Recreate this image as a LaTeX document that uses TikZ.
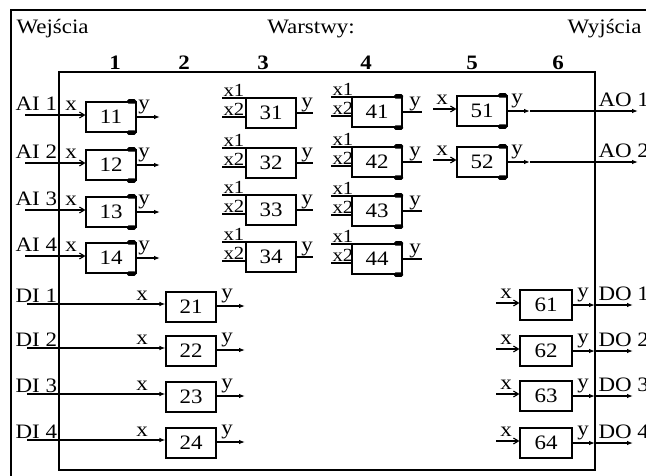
\documentclass[tikz,border=0pt]{standalone}
\usepackage{fontspec}
\setmainfont{Liberation Serif}[FakeStretch=1.12]
\usetikzlibrary{arrows.meta}
\begin{document}
\begin{tikzpicture}[x=1pt,y=-1pt,
  font=\fontsize{20.5}{24}\selectfont, line width=1.1pt,
  blk/.style={draw, minimum width=50pt, minimum height=30pt, inner sep=0pt},
  tab/.style={fill=black, rounded corners=1.5pt, minimum width=9pt, minimum height=4.5pt, inner sep=0pt},
  inarr/.style={-{Straight Barb[length=5pt,width=6pt]}},
  outarr/.style={-{Latex[length=6pt,width=4.5pt]}},
  lbl/.style={inner sep=0pt, anchor=base},
  lblw/.style={inner sep=0pt, anchor=base west},
  pin/.style={inner sep=0pt, anchor=base west, font=\fontsize{18.5}{22}\selectfont},
  num/.style={inner sep=0pt, anchor=base, font=\fontsize{20.5}{24}\selectfont\bfseries}]
\clip (0,0) rectangle (646,475);
\useasboundingbox (0,0) rectangle (646,475);

% outer window frame and inner module frame
\draw[line width=1.4pt] (11,480) -- (11,10) -- (650,10);
\draw (59,72) rectangle (595,470);

% headings
\node[lblw] (hin) at (16,33) {Wejścia};
\node[lbl] (hlay) at (311,33) {Warstwy:};
\node[inner sep=0pt, anchor=base east] (hout) at (642,33) {Wyjścia};
\foreach \k/\x in {1/115,2/184,3/263,4/366,5/472,6/558}
  \node[num] (L\k) at (\x,69) {\k};

% layer 1: analog inputs
\foreach \n/\y/\k in {11/117/1,12/165/2,13/212/3,14/258/4} {
  \node[blk] (b\n) at (111,\y) {\n};
  \coordinate (ai\k) at (25,\y-2);
  \draw[inarr] (ai\k) -- (ai\k -| b\n.west);
  \node[lblw] (tai\k) at (15,\y-7) {AI \k};
  \node[lbl] (x\n) at (71,\y-7) {x};
  \coordinate (o\n) at (160,\y);
  \draw[outarr] (b\n.east) -- (o\n);
  \node[lbl] (y\n) at (144,\y-8) {y};
  \node[tab] (tt\n) at ([xshift=-5pt]b\n.north east) {};
  \node[tab] (tb\n) at ([xshift=-5pt]b\n.south east) {};
}

% layer 2: digital inputs
\foreach \n/\y/\k in {21/307/1,22/351/2,23/397/3,24/443/4} {
  \node[blk] (b\n) at (191,\y) {\n};
  \coordinate (di\k) at (27,\y-3);
  \draw[outarr] (di\k) -- (di\k -| b\n.west);
  \node[lblw] (tdi\k) at (15,\y-5) {DI \k};
  \node[lbl] (x\n) at (142,\y-7) {x};
  \coordinate (o\n) at (245,\y-1);
  \draw[outarr] (o\n -| b\n.east) -- (o\n);
  \node[lbl] (y\n) at (227,\y-9) {y};
}

% layers 3 and 4: two-input blocks
\foreach \n/\cx/\y/\xs/\xe/\yl in {31/271/113/222/313/307,32/271/163/222/313/307,33/271/210/222/313/307,34/271/257/222/313/307,
                               41/377/112/331/422/415,42/377/162/331/422/415,43/377/211/331/422/415,44/377/259/331/422/415} {
  \node[blk] (b\n) at (\cx,\y) {\n};
  \coordinate (pa\n) at (\xs,\y-15);
  \coordinate (pb\n) at (\xs,\y+4);
  \draw (pa\n) -- (pa\n -| b\n.west);
  \draw (pb\n) -- (pb\n -| b\n.west);
  \node[pin] (xa\n) at (\xs+1,\y-17) {x1};
  \node[pin] (xb\n) at (\xs+1,\y+2) {x2};
  \coordinate (o\n) at (\xe,\y);
  \draw (b\n.east) -- (o\n);
  \node[lbl] (y\n) at (\yl,\y-6) {y};
}
\foreach \n in {41,42,43,44} {
  \node[tab] (tt\n) at ([xshift=-4pt]b\n.north east) {};
  \node[tab] (tb\n) at ([xshift=-4pt]b\n.south east) {};
}

% layer 5: analog outputs
\foreach \n/\y/\k in {51/111/1,52/162/2} {
  \node[blk] (b\n) at (482,\y) {\n};
  \coordinate (i\n) at (433,\y-2);
  \draw[inarr] (i\n) -- (i\n -| b\n.west);
  \node[lbl] (x\n) at (442,\y-7) {x};
  \coordinate (m\n) at (530,\y);
  \coordinate (ao\k) at (638,\y);
  \draw[outarr] (b\n.east) -- (m\n);
  \draw[outarr] (m\n) -- (ao\k);
  \node[lbl] (y\n) at (517,\y-8) {y};
  \node[lblw] (tao\k) at (598,\y-5) {AO \k};
  \node[tab] (tt\n) at ([xshift=-5pt]b\n.north east) {};
  \node[tab] (tb\n) at ([xshift=-5pt]b\n.south east) {};
}

% layer 6: digital outputs
\foreach \n/\y/\k in {61/305/1,62/351/2,63/396/3,64/443/4} {
  \node[blk, minimum width=52pt] (b\n) at (546,\y) {\n};
  \coordinate (i\n) at (496,\y-2);
  \draw[inarr] (i\n) -- (i\n -| b\n.west);
  \node[lbl] (x\n) at (506,\y-7) {x};
  \coordinate (m\n) at (595,\y);
  \coordinate (do\k) at (633,\y);
  \draw[outarr] (b\n.east) -- (m\n);
  \draw[outarr] (m\n) -- (do\k);
  \node[lbl] (y\n) at (583,\y-8) {y};
  \node[lblw] (tdo\k) at (598,\y-5) {DO \k};
}
\end{tikzpicture}
\end{document}
